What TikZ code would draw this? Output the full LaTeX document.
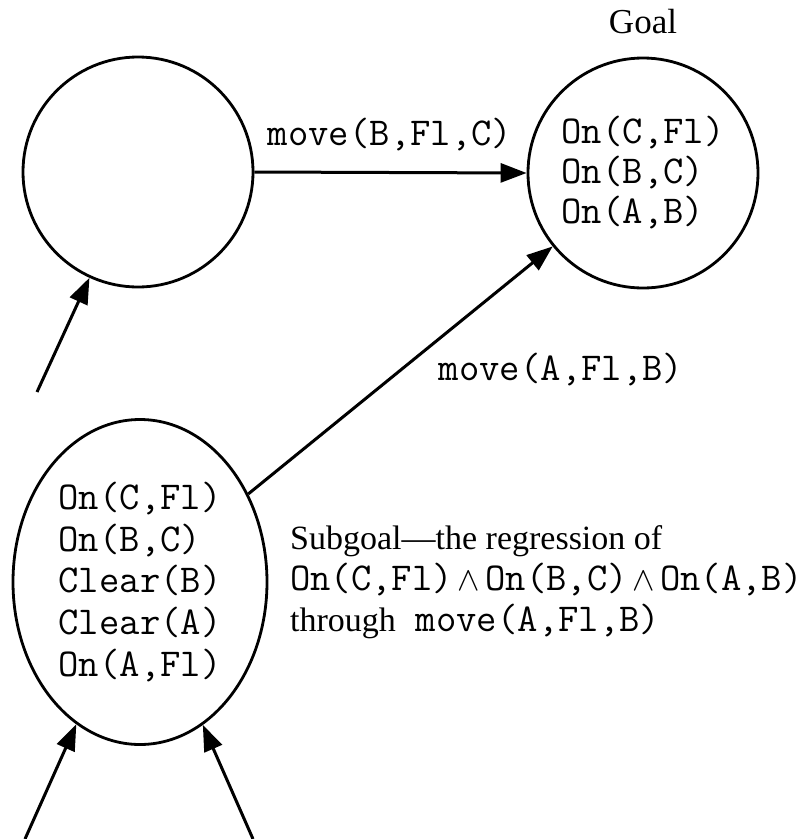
\documentclass[tikz,border=0pt]{standalone}
\usepackage{fontspec}
\setmainfont{Liberation Serif}
\usetikzlibrary{arrows.meta,shapes.geometric}
\newcommand\monot[1]{{\ttfamily\fontsize{39.5}{41}\selectfont #1}}
\newcommand\wedgesym{\hspace{5pt}\scalebox{1.35}{$\wedge$}\hspace{5pt}}
\begin{document}
\begin{tikzpicture}[x=1pt,y=-1pt,
  state/.style={circle,draw,line width=2.8pt,minimum size=230pt,inner sep=0pt,align=left,font=\ttfamily\fontsize{39.5}{40}\selectfont},
  sub/.style={ellipse,draw,line width=2.8pt,minimum width=254pt,minimum height=325pt,inner sep=0pt,align=left,font=\ttfamily\fontsize{39.5}{41.7}\selectfont},
  arr/.style={line width=3pt,-{Triangle[length=26pt,width=19pt]}},
  lbl/.style={font=\ttfamily\fontsize{39.5}{40}\selectfont,inner sep=0pt},
  txt/.style={font=\fontsize{34}{41}\selectfont,inner sep=0pt,align=left}]
\useasboundingbox (0,0) rectangle (811,839);
\node[state] (s0) at (138,172) {};
\node[state] (goal) at (643,173) {On(C,Fl)\\On(B,C)\\On(A,B)};
\node[sub] (sg) at (140,582) {On(C,Fl)\\On(B,C)\\Clear(B)\\Clear(A)\\On(A,Fl)};
\node[font=\fontsize{35}{40}\selectfont,inner sep=0pt] (goallbl) at (643,22) {Goal};
\node[lbl] (m1) at (390,135) {move(B,Fl,C)};
\node[lbl] (m2) at (561,370) {move(A,Fl,B)};
\node[txt,anchor=west] (expl) at (290,582) {Subgoal---the regression of\\
\monot{On(C,Fl)}\wedgesym\monot{On(B,C)}\wedgesym\monot{On(A,B)}\\
through\hspace{20pt}\monot{move(A,Fl,B)}};
\coordinate (t0) at (37,392);
\coordinate (t1) at (25,839);
\coordinate (t2) at (253,839);
\draw[arr] (s0.east) -- (goal.west);
\draw[arr] (sg) -- (goal);
\draw[arr] (t0) -- (s0);
\draw[arr] (t1) -- (sg);
\draw[arr] (t2) -- (sg);
\end{tikzpicture}
\end{document}
